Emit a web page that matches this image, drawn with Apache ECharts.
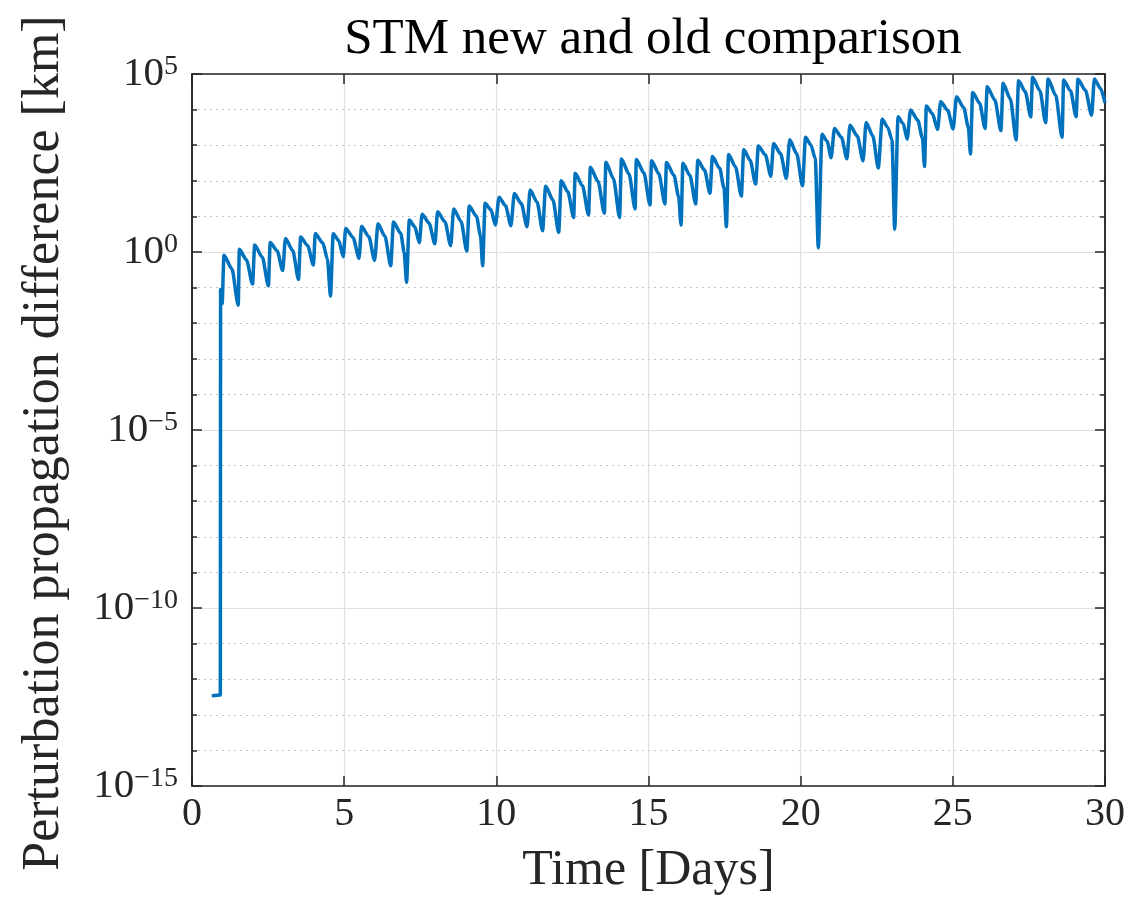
<!DOCTYPE html>
<html>
<head>
<meta charset="utf-8">
<script src="https://cdn.jsdelivr.net/npm/echarts@6/dist/echarts.min.js"></script>
<style>
html,body{margin:0;padding:0;background:#fff;}
#chart{width:1134px;height:911px;}
</style>
</head>
<body>
<div id="chart"></div>
<script>
// Time [Days]
const timeDays = [
  0.65, 0.93, 0.94, 0.99,
  1.05, 1.31, 1.52,
  1.555, 1.79, 1.99,
  2.06, 2.31, 2.51,
  2.57, 2.80, 2.98,
  3.07, 3.31, 3.50,
  3.57, 3.80, 3.99,
  4.05, 4.30, 4.45, 4.55,
  4.64, 4.82, 4.97,
  5.05, 5.29, 5.49,
  5.57, 5.81, 6.00,
  6.11, 6.34, 6.53,
  6.62, 6.86, 6.97, 7.05,
  7.14, 7.32, 7.47,
  7.56, 7.79, 7.98,
  8.07, 8.31, 8.50,
  8.60, 8.84, 9.03,
  9.11, 9.35, 9.48, 9.55,
  9.63, 9.82, 9.97,
  10.09, 10.30, 10.48,
  10.59, 10.82, 11.01,
  11.11, 11.34, 11.52,
  11.62, 11.86, 12.05,
  12.13, 12.35, 12.54,
  12.59, 12.83, 13.03,
  13.09, 13.34, 13.55,
  13.60, 13.85, 14.05,
  14.11, 14.36, 14.56,
  14.60, 14.85, 15.05,
  15.10, 15.34, 15.54,
  15.59, 15.84, 15.99, 16.07,
  16.13, 16.36, 16.55,
  16.62, 16.84, 17.02,
  17.10, 17.34, 17.48, 17.56,
  17.63, 17.86, 18.05,
  18.13, 18.34, 18.52,
  18.61, 18.84, 19.02,
  19.11, 19.34, 19.53,
  19.64, 19.87, 20.06,
  20.16, 20.34, 20.48, 20.58,
  20.70, 20.87, 21.00,
  21.11, 21.34, 21.52,
  21.62, 21.86, 22.05,
  22.15, 22.37, 22.55,
  22.68, 22.86, 23.00, 23.09,
  23.20, 23.37, 23.50,
  23.61, 23.85, 24.00, 24.07,
  24.13, 24.33, 24.50,
  24.60, 24.83, 25.01,
  25.12, 25.36, 25.51, 25.58,
  25.65, 25.88, 26.06,
  26.13, 26.38, 26.58,
  26.65, 26.89, 27.08,
  27.16, 27.38, 27.56,
  27.62, 27.86, 28.05,
  28.13, 28.38, 28.59,
  28.64, 28.87, 29.05,
  29.11, 29.36, 29.56,
  29.65, 29.85, 30.00
];

// Perturbation propagation difference [km]
const diffKm = [
  3.4e-13, 3.6e-13, 8.9e-2, 3.5e-2,
  8.1e-1, 3.4e-1, 3.2e-2,
  1.19, 6.0e-1, 1.26e-1,
  1.58, 7.1e-1, 1.12e-1,
  1.86, 1.07, 3.0e-1,
  2.40, 1.10, 1.7e-1,
  2.63, 1.51, 4.3e-1,
  3.31, 1.78, 6.3e-1, 5.8e-2,
  3.24, 2.09, 7.4e-1,
  4.57, 2.57, 6.6e-1,
  5.25, 2.69, 5.8e-1,
  6.17, 2.75, 4.1e-1,
  6.92, 3.31, 1.0, 1.4e-1,
  7.94, 5.13, 1.82,
  11.5, 6.46, 1.70,
  13.5, 7.08, 1.51,
  16.2, 7.24, 1.07,
  19.5, 10.0, 2.82, 4.1e-1,
  23.4, 15.5, 5.75,
  34.7, 20.0, 5.50,
  43.7, 22.9, 5.13,
  55.0, 25.1, 3.98,
  70.8, 28.8, 3.55,
  100, 49.0, 9.33,
  162, 72.4, 11.0,
  240, 97.7, 12.3,
  331, 115, 9.33,
  407, 155, 16.2,
  398, 166, 20.9,
  363, 158, 22.4,
  324, 141, 35.5, 5.75,
  309, 141, 22.4,
  380, 200, 44.7,
  479, 224, 63.1, 5.13,
  550, 245, 37.2,
  741, 380, 81.3,
  955, 537, 135,
  1122, 575, 117,
  1413, 575, 72.4,
  1660, 1000, 417, 1.32,
  2042, 1288, 447,
  2951, 1660, 417,
  3631, 1820, 363,
  4365, 1820, 229,
  5370, 3162, 1413, 4.37,
  6310, 3981, 1479,
  9772, 5012, 1585, 251,
  12589, 7586, 2754,
  16596, 9550, 2884,
  22909, 11220, 3162, 562,
  30200, 15136, 2951,
  43652, 18621, 2570,
  54954, 19953, 1413,
  64565, 31623, 6310,
  81283, 33884, 4266,
  72444, 25119, 1660,
  67608, 33113, 6310,
  70795, 34674, 6918,
  72444, 39811, 15488
];

const xTickValues = [0, 5, 10, 15, 20, 25, 30];
const yMajorExponents = [5, 0, -5, -10, -15];

const titleText = 'STM new and old comparison';
const xLabelText = 'Time [Days]';
const yLabelText = 'Perturbation propagation difference [km]';

const FONT = 'Liberation Serif';
const TXT = '#262626';
const AXIS = '#262626';

const points = timeDays.map((t, i) => [t, diffKm[i]]);

function expLabel(v) {
  const e = Math.round(Math.log10(v));
  if (yMajorExponents.indexOf(e) < 0) return '';
  const es = e < 0 ? '\u2212' + (-e) : String(e);
  return '{b|10}{s|' + es + '}';
}

const yCommon = {
  type: 'log',
  logBase: 10,
  min: 1e-15,
  max: 1e5,
  axisLine: { show: true, lineStyle: { color: AXIS, width: 1.5 } },
  minorTick: { show: false },
  minorSplitLine: { show: false }
};

const chart = echarts.init(document.getElementById('chart'), null, { renderer: 'canvas' });
chart.setOption({
  backgroundColor: '#ffffff',
  animation: false,
  title: {
    text: titleText,
    left: 648,
    textAlign: 'center',
    top: 9,
    textStyle: { fontFamily: FONT, fontSize: 51, fontWeight: 'normal', color: '#000' }
  },
  graphic: [
    {
      type: 'text',
      x: 44,
      y: 443,
      rotation: Math.PI / 2,
      style: {
        text: yLabelText,
        fontFamily: FONT,
        fontSize: 52,
        fill: TXT,
        align: 'center',
        verticalAlign: 'middle'
      }
    }
  ],
  grid: { left: 192, right: 29, top: 74, bottom: 125, containLabel: false },
  xAxis: [
    {
      type: 'value', position: 'bottom', min: 0, max: 30, interval: 5,
      name: xLabelText, nameLocation: 'middle', nameGap: 60,
      nameTextStyle: { fontFamily: FONT, fontSize: 50, color: TXT },
      axisLine: { show: true, onZero: false, lineStyle: { color: AXIS, width: 1.5 } },
      axisTick: { show: true, inside: true, length: 10, lineStyle: { color: AXIS, width: 1.5 } },
      axisLabel: { show: true, margin: 8, fontFamily: FONT, fontSize: 40, color: TXT,
        formatter: v => (xTickValues.indexOf(v) >= 0 ? String(v) : '') },
      splitLine: { show: true, lineStyle: { color: '#dfdfdf', width: 1.2 } }
    },
    {
      type: 'value', position: 'top', min: 0, max: 30, interval: 5,
      axisLine: { show: true, onZero: false, lineStyle: { color: AXIS, width: 1.5 } },
      axisTick: { show: true, inside: true, length: 10, lineStyle: { color: AXIS, width: 1.5 } },
      axisLabel: { show: false },
      splitLine: { show: false }
    }
  ],
  yAxis: [
    Object.assign({}, yCommon, {
      position: 'left', interval: 1,
      axisTick: { show: true, inside: true, length: 5, lineStyle: { color: AXIS, width: 1.5 } },
      axisLabel: { show: false },
      splitLine: { show: true, lineStyle: { color: '#c4c4c4', width: 1, type: [2, 4] } }
    }),
    Object.assign({}, yCommon, {
      position: 'left', interval: 5,
      axisTick: { show: true, inside: true, length: 10, lineStyle: { color: AXIS, width: 1.5 } },
      axisLabel: {
        show: true, margin: 14, formatter: expLabel,
        rich: {
          b: { fontFamily: FONT, fontSize: 41, color: TXT, verticalAlign: 'bottom' },
          s: { fontFamily: FONT, fontSize: 28, color: TXT, verticalAlign: 'top', padding: [0, 0, 14, 0] }
        }
      },
      splitLine: { show: true, lineStyle: { color: '#dfdfdf', width: 1.2 } }
    }),
    Object.assign({}, yCommon, {
      position: 'right', interval: 1,
      axisTick: { show: true, inside: true, length: 5, lineStyle: { color: AXIS, width: 1.5 } },
      axisLabel: { show: false },
      splitLine: { show: false }
    }),
    Object.assign({}, yCommon, {
      position: 'right', interval: 5,
      axisTick: { show: true, inside: true, length: 10, lineStyle: { color: AXIS, width: 1.5 } },
      axisLabel: { show: false },
      splitLine: { show: false }
    })
  ],
  series: [
    {
      type: 'line',
      xAxisIndex: 0,
      yAxisIndex: 1,
      data: points,
      showSymbol: false,
      symbol: 'none',
      smooth: 0.25,
      smoothMonotone: 'x',
      clip: true,
      lineStyle: { color: '#0072BD', width: 3.5, join: 'round' },
      itemStyle: { color: '#0072BD' }
    }
  ]
});
</script>
</body>
</html>
